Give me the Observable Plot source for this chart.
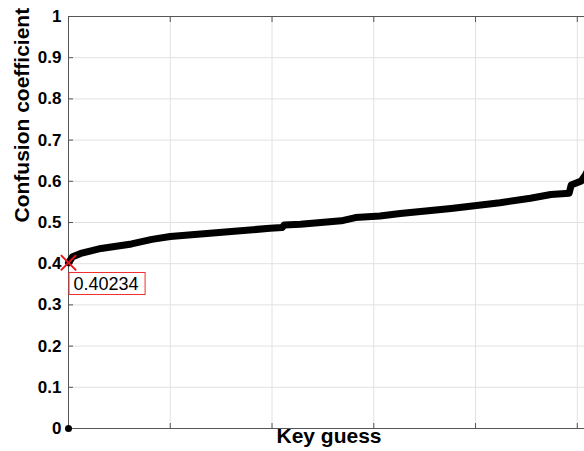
<!DOCTYPE html>
<html><head><meta charset="utf-8">
<script src="https://cdn.jsdelivr.net/npm/d3@7"></script>
<script src="https://cdn.jsdelivr.net/npm/@observablehq/plot@0.6"></script>
<style>
body{margin:0;background:#fff;}
#chart{width:584px;height:451px;overflow:hidden;position:relative;}
#chart svg{max-width:none !important;}
</style></head><body><div id="chart"></div>
<script>
const keyGuess = [0, 2, 6, 16, 31, 41, 50, 65, 80, 99, 105, 106, 114, 134, 141, 153, 163, 188, 212, 227, 237, 246, 247, 252, 254, 255];
const confusion = [0.40234, 0.417, 0.425, 0.437, 0.448, 0.459, 0.466, 0.472, 0.478, 0.486, 0.488, 0.494, 0.496, 0.504, 0.512, 0.516, 0.522, 0.534, 0.548, 0.559, 0.568, 0.571, 0.591, 0.601, 0.615, 0.625];
const yTicks = [0, 0.1, 0.2, 0.3, 0.4, 0.5, 0.6, 0.7, 0.8, 0.9, 1];
const xTicks = [0, 50, 100, 150, 200, 250];
const xDomain = [0, 256];
const originX = [0], originY = [0];
const tipX = [0], tipY = [0.40234];
const tipLabel = "0.40234";
const xLabel = "Key guess";
const yLabel = "Confusion coefficient";

const data = keyGuess.map((k, i) => ({k, c: confusion[i]}));
const origin = originX.map((x, i) => ({x, y: originY[i]}));
const tip = tipX.map((x, i) => ({x, y: tipY[i], label: tipLabel}));

const plot = Plot.plot({
  width: 590, height: 451,
  marginLeft: 68, marginRight: 1, marginTop: 16, marginBottom: 23,
  style: {fontFamily: "'Liberation Sans', Arial, sans-serif", fontSize: "17px", fontWeight: "bold", color: "#000", background: "#fff", maxWidth: "none"},
  x: {domain: xDomain, ticks: xTicks},
  y: {domain: [0, 1], ticks: yTicks},
  marks: [
    Plot.gridX(xTicks, {stroke: "#e2e2e2", strokeOpacity: 1}),
    Plot.gridY(yTicks, {stroke: "#e2e2e2", strokeOpacity: 1}),
    Plot.ruleY([0, 1], {stroke: "#555"}),
    Plot.ruleX([0, xDomain[1]], {stroke: "#555"}),
    Plot.axisX(xTicks, {anchor: "bottom", tickSize: -5, tickFormat: () => "", label: null, stroke: "#555"}),
    Plot.axisX(xTicks, {anchor: "top", tickSize: -5, tickFormat: () => "", label: null, stroke: "#555"}),
    Plot.axisY(yTicks, {anchor: "left", tickSize: -5, tickPadding: 12, tickFormat: d => String(d), label: null, stroke: "#555", fill: "#000"}),
    Plot.line(data, {x: "k", y: "c", stroke: "#000", strokeWidth: 7, strokeLinecap: "round", strokeLinejoin: "round"}),
    Plot.dot(origin, {x: "x", y: "y", r: 3.5, fill: "#000"}),
    Plot.dot(tip, {x: "x", y: "y", symbol: "times", r: 7, stroke: "#e8141e", strokeWidth: 2}),
    Plot.text(tip, {x: "x", y: "y", text: "label", textAnchor: "start", lineAnchor: "middle", dx: 5, dy: 21, fontWeight: "normal", fontSize: 18, fill: "#000"}),
    Plot.text([xLabel], {frameAnchor: "bottom", lineAnchor: "top", dy: 0, fontSize: 21}),
    Plot.text([yLabel], {frameAnchor: "left", rotate: -90, dx: -46, fontSize: 21})
  ]
});
document.getElementById("chart").appendChild(plot);
// draw the data-tip frame around the label text
d3.select(plot).selectAll("text").filter(function() { return this.textContent === tipLabel; }).each(function() {
  const b = this.getBBox();
  d3.select(this.parentNode).insert("rect", () => this)
    .attr("transform", this.getAttribute("transform"))
    .attr("x", b.x - 4.5).attr("y", b.y - 1)
    .attr("width", b.width + 11).attr("height", b.height + 2)
    .attr("fill", "#fff").attr("stroke", "#f03030").attr("stroke-width", 1);
});
</script></body></html>
